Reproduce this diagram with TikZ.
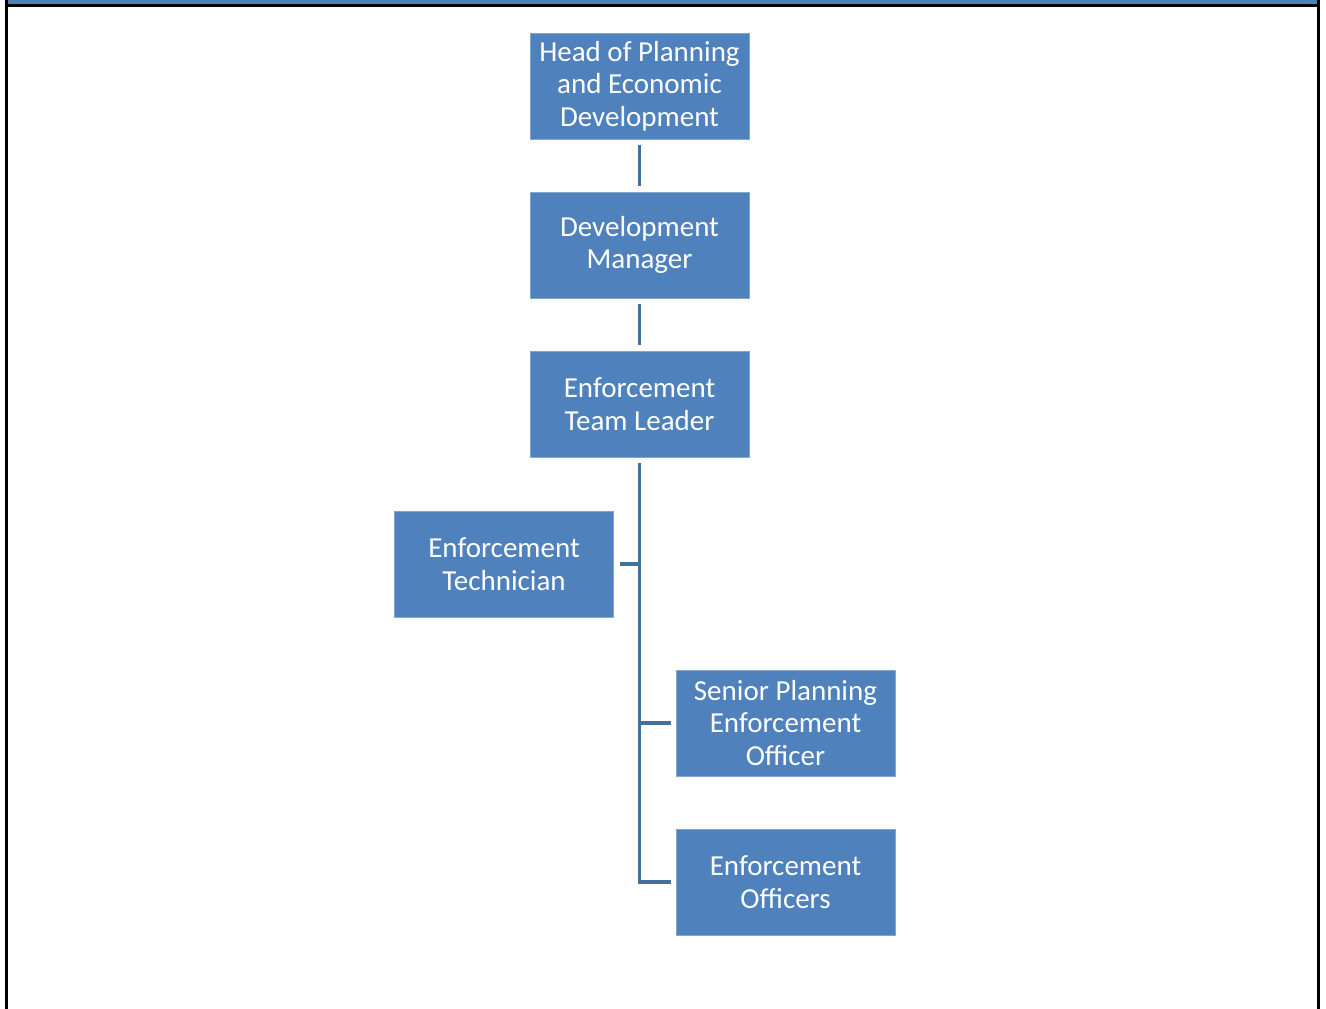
\documentclass[tikz,border=0pt]{standalone}
\usepackage{fontspec}
\setmainfont{Carlito}
\definecolor{boxblue}{HTML}{4F81BD}
\definecolor{lineblue}{HTML}{41719C}
\begin{document}
\begin{tikzpicture}[x=1pt,y=-1pt,
  orgbox/.style={fill=boxblue, draw=boxblue!70!white, line width=0.6pt, minimum width=219pt, minimum height=106pt, inner sep=0pt, text=white, align=center, font=\fontsize{29}{32.5}\selectfont},
  conn/.style={draw=lineblue, line width=3.2pt}]
\useasboundingbox (0,0) rectangle (1326,1009);
\fill[white] (0,0) rectangle (1326,1009);
\fill[boxblue] (7,0) rectangle (1318,4.5);
\fill[black] (5,4) rectangle (1320,6.5);
\fill[black] (5,0) rectangle (8,1009);
\fill[black] (1317,0) rectangle (1320,1009);
\node[orgbox] (head) at (639.5,86) {Head of Planning\\and Economic\\Development};
\node[orgbox] (dev) at (639.5,245) {Development\\Manager};
\node[orgbox] (tl) at (639.5,404) {Enforcement\\Team Leader};
\node[orgbox] (tech) at (504,564) {Enforcement\\Technician};
\node[orgbox] (spo) at (785.5,723) {Senior Planning\\Enforcement\\Officer};
\node[orgbox] (off) at (785.5,882) {Enforcement\\Officers};
\draw[conn] ([yshift=-6pt]head.south) -- ([yshift=6pt]dev.north);
\draw[conn] ([yshift=-6pt]dev.south) -- ([yshift=6pt]tl.north);
\coordinate (trunk) at ([yshift=-6pt]tl.south);
\draw[conn, line join=miter] (trunk) -- (trunk |- off.west) -- ([xshift=-5pt]off.west);
\draw[conn] ([xshift=6pt]tech.east) -- (trunk |- tech.east);
\draw[conn] (trunk |- spo.west) -- ([xshift=-5pt]spo.west);
\end{tikzpicture}
\end{document}
